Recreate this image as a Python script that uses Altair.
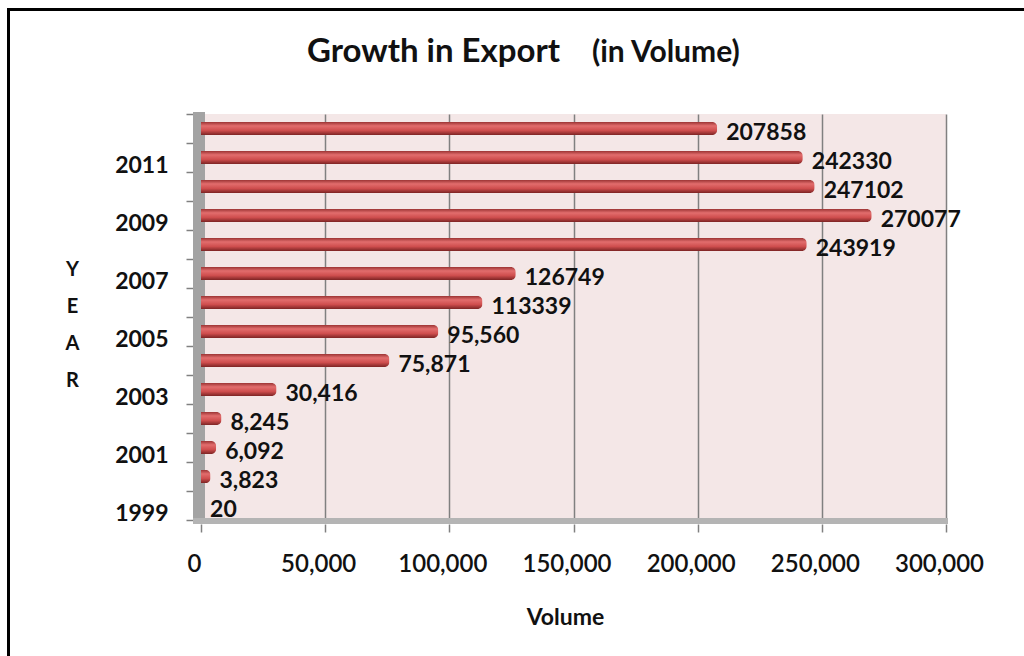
import altair as alt
import pandas as pd

years = [str(y) for y in range(1999, 2013)]
volumes = [20, 3823, 6092, 8245, 30416, 75871, 95560, 113339, 126749,
           243919, 270077, 247102, 242330, 207858]
value_labels = ["20", "3,823", "6,092", "8,245", "30,416", "75,871", "95,560",
                "113339", "126749", "243919", "270077", "247102", "242330", "207858"]
x_ticks = [0, 50000, 100000, 150000, 200000, 250000, 300000]
title_main = "Growth in Export"
title_sub = "(in Volume)"
y_title = ["Y", "E", "A", "R"]
x_title = "Volume"

df = pd.DataFrame({"year": years, "volume": volumes, "label": value_labels})

W, H = 745, 406
LEFT, TOP = 201, 114
FONT = "Lato"

xs = alt.Scale(domain=[0, 300000], nice=False)
ys = alt.Scale(paddingInner=0, paddingOuter=0)

bar_grad = alt.Gradient(
    gradient="linear",
    stops=[alt.GradientStop(color="#9c3434", offset=0),
           alt.GradientStop(color="#e26d6d", offset=0.3),
           alt.GradientStop(color="#cf4e4e", offset=0.65),
           alt.GradientStop(color="#7d2424", offset=1)],
    x1=0, x2=0, y1=0, y2=1)

x_axis = alt.Axis(values=x_ticks, format=",d", grid=True, gridColor="#808080",
                  gridWidth=1.5, domain=False, tickColor="#808080", tickWidth=1.5,
                  tickSize=8, offset=4, labelFont=FONT, labelFontSize=24,
                  labelFontWeight=600, labelColor="#111", labelPadding=20,
                  labelOffset=-7,
                  labelOverlap=False, labelBound=False, labelFlush=False,
                  title=x_title, titleFont=FONT, titleFontSize=23,
                  titleFontWeight="bold", titleColor="#111",
                  titleBaseline="middle", titleY=93, titleX=364)
y_axis = alt.Axis(domain=False, tickBand="extent", tickColor="#808080",
                  tickWidth=1.5, tickSize=7, offset=8, labelOverlap=False,
                  labelExpr="toNumber(datum.value) % 2 == 1 ? datum.label : ''",
                  labelFont=FONT, labelFontSize=23, labelFontWeight="bold",
                  labelColor="#111", labelPadding=18, labelOffset=8,
                  title=y_title, titleAngle=0, titleFont=FONT, titleFontSize=20,
                  titleFontWeight="bold", titleColor="#111", titleAlign="center",
                  titleBaseline="top", titleX=-121, titleY=145,
                  titleLineHeight=37)

base = alt.Chart(df)

bars = base.mark_bar(size=13, cornerRadiusEnd=5, fill=bar_grad).encode(
    x=alt.X("volume:Q", scale=xs, axis=x_axis),
    y=alt.Y("year:N", sort="descending", scale=ys, axis=y_axis),
)

labels = base.mark_text(align="left", baseline="middle", dx=9, dy=4, font=FONT,
                        fontSize=23, fontWeight="bold", color="#111").encode(
    x=alt.X("volume:Q", scale=xs, axis=x_axis),
    y=alt.Y("year:N", sort="descending", scale=ys, axis=y_axis),
    text="label:N",
)

one = pd.DataFrame({"k": [0]})

wall = alt.Chart(one).mark_rect(color="#a3a3a3").encode(
    x=alt.value(-8), x2=alt.value(4), y=alt.value(-2), y2=alt.value(H + 4))
floor = alt.Chart(one).mark_rect(color="#b4b4b4").encode(
    x=alt.value(-8), x2=alt.value(W + 2), y=alt.value(H - 2), y2=alt.value(H + 4))

t1 = alt.Chart(pd.DataFrame({"t": [title_main]})).mark_text(
    align="left", baseline="alphabetic", font=FONT, fontSize=33, fontWeight="bold",
    color="#111").encode(x=alt.value(307 - LEFT), y=alt.value(62 - TOP), text="t:N")
t2 = alt.Chart(pd.DataFrame({"t": [title_sub]})).mark_text(
    align="left", baseline="alphabetic", font=FONT, fontSize=30, fontWeight="bold",
    color="#111").encode(x=alt.value(592 - LEFT), y=alt.value(62 - TOP), text="t:N")

frame = alt.Chart(one).mark_rect(fillOpacity=0, stroke="black", strokeWidth=3).encode(
    x=alt.value(8.5 - LEFT), x2=alt.value(1024 - LEFT + 40),
    y=alt.value(9.5 - TOP), y2=alt.value(656 - TOP + 40))

chart = alt.layer(wall, floor, bars, labels, t1, t2, frame).properties(
    width=W, height=H,
    padding={"left": LEFT, "top": TOP, "right": 1024 - LEFT - W, "bottom": 656 - TOP - H},
    autosize=alt.AutoSizeParams(type="none"),
    background="white",
).configure_view(fill="#f4e7e7", strokeWidth=0)

chart.save("out.html", embed_options={"renderer": "svg", "actions": False})
